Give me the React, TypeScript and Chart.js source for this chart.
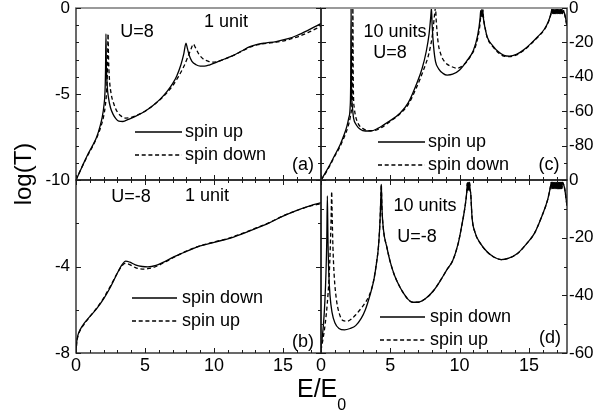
import React, { useEffect, useRef } from "react";
import { Chart, registerables } from "chart.js";

Chart.register(...registerables);

const FONT = '"Liberation Sans", Arial, Helvetica, sans-serif';
const W = 613;
const H = 413;

// ---------- axis values ----------
const X_MAX = 17.75;
const xTickLabels = [0, 5, 10, 15];
const aTickLabels = [-10, -5, 0];
const bTickLabels = [-8, -4];
const cTickLabels = [-80, -60, -40, -20, 0];
const dTickLabels = [-60, -40, -20, 0];

type Pt = [number, number];

// ---------- panel (a): 1 unit, U=8 ----------
const aSpinUp: Pt[] = [
  [0, -10], [0.4, -9.3], [0.8, -8.6], [1.2, -8.0], [1.5, -7.5], [1.75, -6.85], [1.9, -6.35],
  [2.02, -5.7], [2.1, -4.9], [2.14, -3.6], [2.17, -1.5], [2.2, -3.3], [2.25, -4.4], [2.35, -5.2],
  [2.5, -5.8], [2.7, -6.2], [2.9, -6.45], [3.1, -6.58], [3.4, -6.6], [3.8, -6.47], [4.3, -6.3],
  [5.0, -6.0], [5.6, -5.65], [6.1, -5.3], [6.6, -4.85], [7.0, -4.4], [7.3, -3.95], [7.6, -3.3],
  [7.8, -2.7], [7.97, -2.05], [8.07, -2.35], [8.2, -2.75], [8.4, -3.1], [8.7, -3.3], [9.0, -3.38],
  [9.3, -3.38], [9.7, -3.3], [10.2, -3.15], [10.8, -2.95], [11.4, -2.75], [12.0, -2.5], [12.6, -2.25],
  [13.2, -2.1], [13.8, -2.03], [14.5, -1.95], [15.3, -1.8], [16.0, -1.6], [16.8, -1.3], [17.4, -1.05],
  [17.75, -0.9],
];
const aSpinDown: Pt[] = [
  [0, -10], [0.4, -9.3], [0.8, -8.65], [1.2, -8.05], [1.5, -7.55], [1.8, -6.9], [2.0, -6.3],
  [2.12, -5.7], [2.22, -4.8], [2.28, -3.5], [2.32, -1.5], [2.36, -3.0], [2.42, -4.1], [2.55, -5.0],
  [2.75, -5.6], [3.0, -6.05], [3.3, -6.3], [3.6, -6.4], [4.0, -6.36], [4.5, -6.2], [5.0, -6.0],
  [5.6, -5.66], [6.1, -5.32], [6.6, -4.92], [7.0, -4.52], [7.4, -4.02], [7.8, -3.42], [8.1, -2.85],
  [8.35, -2.35], [8.5, -2.1], [8.65, -2.3], [8.9, -2.68], [9.2, -2.95], [9.6, -3.1], [9.9, -3.15],
  [10.3, -3.1], [10.8, -2.96], [11.4, -2.76], [12.0, -2.52], [12.6, -2.28], [13.2, -2.13], [13.8, -2.06],
  [14.5, -1.99], [15.3, -1.86], [16.0, -1.69], [16.8, -1.43], [17.4, -1.2], [17.75, -1.07],
];

// ---------- panel (b): 1 unit, U=-8 ----------
const bSpinDown: Pt[] = [
  [0, -8], [0.05, -7.5], [0.15, -7.15], [0.3, -6.92], [0.6, -6.62], [1.0, -6.32], [1.5, -5.95],
  [2.0, -5.5], [2.5, -4.95], [3.0, -4.3], [3.3, -3.95], [3.6, -3.75], [3.9, -3.8], [4.3, -3.92],
  [4.8, -4.0], [5.2, -4.02], [5.8, -3.95], [6.5, -3.75], [7.2, -3.52], [8.0, -3.3], [9.0, -3.05],
  [10.0, -2.88], [11.0, -2.72], [12.0, -2.5], [13.0, -2.25], [14.0, -1.98], [15.0, -1.67], [16.0, -1.4],
  [17.0, -1.18], [17.75, -1.05],
];
const bSpinUp: Pt[] = [
  [0, -8], [0.05, -7.55], [0.15, -7.2], [0.3, -6.96], [0.6, -6.66], [1.0, -6.32], [1.5, -5.92],
  [2.0, -5.46], [2.5, -4.9], [3.0, -4.3], [3.3, -4.0], [3.55, -3.86], [3.85, -3.9], [4.3, -4.05],
  [4.8, -4.12], [5.2, -4.1], [5.8, -4.0], [6.5, -3.78], [7.2, -3.54], [8.0, -3.29], [9.0, -3.04],
  [10.0, -2.87], [11.0, -2.7], [12.0, -2.48], [13.0, -2.23], [14.0, -1.97], [15.0, -1.66], [16.0, -1.41],
  [17.0, -1.2], [17.75, -1.1],
];

// ---------- panel (c): 10 units, U=8 ----------
const cSpinUp: Pt[] = [
  [0, -100], [0.3, -96], [0.65, -91], [1.0, -85.5], [1.38, -79.5], [1.65, -74], [1.86, -69],
  [2.0, -64], [2.1, -58], [2.14, -45], [2.17, 0], [2.2, -45], [2.27, -58], [2.35, -64], [2.55, -68],
  [2.83, -70.5], [3.2, -71.5], [3.6, -71.5], [4.1, -70], [4.8, -66.5], [5.7, -61.2], [6.3, -55],
  [6.9, -44], [7.3, -35], [7.6, -25], [7.8, -15], [7.92, -5], [7.97, 0], [8.02, -10], [8.12, -22],
  [8.26, -31], [8.5, -35.5], [8.8, -38], [9.1, -39], [9.5, -38.5], [10.0, -36], [10.5, -31],
  [11.0, -24.5], [11.3, -16], [11.48, -6], [11.52, -1.5], [11.56, -5], [11.6, -1], [11.64, -5],
  [11.68, -1.5], [11.72, -6], [11.85, -12], [12.0, -17], [12.4, -22], [12.8, -25.5], [13.2, -27.5],
  [13.6, -28], [14.1, -27], [14.6, -24.5], [15.1, -21], [15.6, -17], [16.1, -12.5], [16.4, -8],
  [16.6, -3],
];
const cSpinDown: Pt[] = [
  [0, -100], [0.3, -96.5], [0.65, -91.5], [1.0, -86], [1.38, -80.5], [1.7, -74.5], [1.95, -69],
  [2.12, -63], [2.22, -57], [2.27, -45], [2.3, 0], [2.33, -45], [2.4, -58], [2.5, -63], [2.7, -67.5],
  [3.0, -70], [3.4, -71.3], [3.8, -71.3], [4.3, -69.8], [4.9, -66.5], [5.7, -61.5], [6.3, -56],
  [6.9, -46], [7.4, -36], [7.8, -26], [8.05, -15], [8.18, -5], [8.26, 0], [8.32, -8], [8.45, -20],
  [8.65, -27], [8.95, -31.5], [9.4, -34], [9.83, -35], [10.3, -33], [10.8, -28], [11.2, -21],
  [11.45, -11], [11.55, -3], [11.6, -1], [11.64, -4], [11.68, -1], [11.72, -5], [11.85, -12],
  [12.0, -17.3], [12.4, -22.5], [12.8, -26], [13.2, -28], [13.6, -28.3], [14.1, -27.3], [14.6, -24.8],
  [15.1, -21.3], [15.6, -17.3], [16.1, -12.8], [16.4, -8.3], [16.6, -3.3],
];
// dense oscillation band near the top, shared by both spins
const cBand: Pt[] = [
  [16.66, -0.8], [16.7, -3.2], [16.74, -0.8], [16.78, -3.2], [16.82, -0.8], [16.86, -3.2],
  [16.9, -0.8], [16.94, -3.2], [16.98, -0.8], [17.02, -3.2], [17.06, -0.8], [17.1, -3.2],
  [17.14, -0.8], [17.18, -3.2], [17.22, -0.8], [17.26, -3.2], [17.3, -0.8], [17.34, -3.2],
  [17.38, -0.8], [17.42, -3.2],
];
const cUpTail: Pt[] = [[17.5, -1.5], [17.6, -4], [17.75, -10]];
const cDownTail: Pt[] = [[17.5, -1.5], [17.6, -4.5], [17.75, -11]];

// ---------- panel (d): 10 units, U=-8 ----------
const dSpinDown: Pt[] = [
  [0, -58], [0.08, -55], [0.18, -50], [0.28, -42], [0.36, -32], [0.42, -20], [0.46, -5.5],
  [0.5, -20], [0.56, -32], [0.65, -40], [0.8, -46], [1.0, -49.5], [1.3, -51.5], [1.7, -52],
  [2.1, -51.5], [2.5, -50.5], [2.9, -48], [3.2, -45], [3.5, -40.5], [3.8, -35], [4.0, -29],
  [4.15, -23], [4.27, -13], [4.33, -4], [4.35, -1.5],
];
const dSpinUp: Pt[] = [
  [0, -59], [0.15, -55], [0.3, -50], [0.45, -43], [0.58, -34], [0.68, -22], [0.74, -11],
  [0.77, -4], [0.8, -11], [0.86, -23], [0.95, -33], [1.1, -41], [1.3, -46], [1.6, -48.8],
  [1.9, -49], [2.2, -48.2], [2.55, -46.5], [2.9, -44.5], [3.2, -42.5], [3.5, -39.8], [3.8, -34.8],
  [4.0, -28.8], [4.15, -22.8], [4.27, -12.8], [4.33, -4], [4.35, -1.5],
];
// beyond E ~ 4.4 both spins coincide
const dShared: Pt[] = [
  [4.4, -10], [4.5, -17], [4.76, -23.5], [5.0, -28.5], [5.3, -33], [5.7, -37.2], [6.0, -39.6],
  [6.3, -41.5], [6.6, -42.4], [7.0, -42.4], [7.5, -41.3], [8.1, -38.5], [8.6, -35], [9.1, -31],
  [9.5, -28], [9.9, -22], [10.15, -16], [10.4, -9], [10.52, -4], [10.56, -1], [10.6, -3.5],
  [10.64, -0.8], [10.68, -3.5], [10.72, -0.8], [10.76, -3.5], [10.8, -4.5], [10.9, -13],
  [11.1, -18], [11.5, -22], [12.0, -25], [12.5, -26.8], [13.0, -27.6], [13.5, -27.2], [14.2, -25.4],
  [14.8, -22.3], [15.4, -18.5], [15.9, -13], [16.35, -6.9], [16.55, -2.5],
];
const dBand: Pt[] = [
  [16.62, -0.8], [16.66, -3.0], [16.7, -0.8], [16.74, -3.0], [16.78, -0.8], [16.82, -3.0],
  [16.86, -0.8], [16.9, -3.0], [16.94, -0.8], [16.98, -3.0], [17.02, -0.8], [17.06, -3.0],
  [17.1, -0.8], [17.14, -3.0], [17.18, -0.8], [17.22, -3.0], [17.26, -0.8], [17.3, -3.0],
  [17.34, -0.8], [17.38, -3.0], [17.42, -0.8],
];
const dTail: Pt[] = [[17.5, -1.5], [17.6, -3.5], [17.75, -9]];

// ---------- panel layout ----------
interface Note { text: string; x: number; y: number; align: CanvasTextAlign }
interface Panel {
  rect: { l: number; t: number; r: number; b: number };
  yMin: number; yMax: number; yLabels: number[]; yPos: "left" | "right";
  yMinor: number; yMajor: number;
  showX: boolean; topTicks: boolean; grayTop: boolean;
  solid: { label: string; data: Pt[] };
  dashed: { label: string; data: Pt[] };
  notes: Note[];
  legend: { x1: number; x2: number; tx: number; y: [number, number] };
}

const PANELS: Panel[] = [
  {
    rect: { l: 76, t: 8, r: 321, b: 180 },
    yMin: -10, yMax: 0, yLabels: aTickLabels, yPos: "left", yMinor: 1, yMajor: 5,
    showX: false, topTicks: false, grayTop: true,
    solid: { label: "spin up", data: aSpinUp },
    dashed: { label: "spin down", data: aSpinDown },
    notes: [
      { text: "U=8", x: 137, y: 32, align: "center" },
      { text: "1 unit", x: 226, y: 22, align: "center" },
      { text: "(a)", x: 303, y: 165, align: "center" },
    ],
    legend: { x1: 135, x2: 182, tx: 185, y: [132, 155] },
  },
  {
    rect: { l: 76, t: 180, r: 321, b: 353 },
    yMin: -8, yMax: 0, yLabels: bTickLabels, yPos: "left", yMinor: 2, yMajor: 4,
    showX: true, topTicks: true, grayTop: false,
    solid: { label: "spin down", data: bSpinDown },
    dashed: { label: "spin up", data: bSpinUp },
    notes: [
      { text: "U=-8", x: 131, y: 197, align: "center" },
      { text: "1 unit", x: 207, y: 196, align: "center" },
      { text: "(b)", x: 303, y: 342, align: "center" },
    ],
    legend: { x1: 132, x2: 177, tx: 182, y: [298, 321] },
  },
  {
    rect: { l: 321, t: 8, r: 567, b: 180 },
    yMin: -100, yMax: 0, yLabels: cTickLabels, yPos: "right", yMinor: 10, yMajor: 20,
    showX: false, topTicks: false, grayTop: true,
    solid: { label: "spin up", data: [...cSpinUp, ...cBand, ...cUpTail] },
    dashed: { label: "spin down", data: [...cSpinDown, ...cBand, ...cDownTail] },
    notes: [
      { text: "10 units", x: 395, y: 32, align: "center" },
      { text: "U=8", x: 390, y: 53, align: "center" },
      { text: "(c)", x: 549, y: 165, align: "center" },
    ],
    legend: { x1: 378, x2: 425, tx: 428, y: [142, 165] },
  },
  {
    rect: { l: 321, t: 180, r: 567, b: 353 },
    yMin: -60, yMax: 0, yLabels: dTickLabels, yPos: "right", yMinor: 10, yMajor: 20,
    showX: true, topTicks: true, grayTop: false,
    solid: { label: "spin down", data: [...dSpinDown, ...dShared, ...dBand, ...dTail] },
    dashed: { label: "spin up", data: [...dSpinUp, ...dShared, ...dBand, ...dTail] },
    notes: [
      { text: "10 units", x: 425, y: 206, align: "center" },
      { text: "U=-8", x: 417, y: 237, align: "center" },
      { text: "(d)", x: 550, y: 338, align: "center" },
    ],
    legend: { x1: 380, x2: 425, tx: 430, y: [317, 340] },
  },
];

const DASH = [4, 2.7];

const decoPlugin = {
  id: "panelDeco",
  afterDatasetsDraw(chart: any, _args: any, opts: any) {
    const p: Panel = opts.panel;
    if (!p) return;
    const { ctx, chartArea } = chart;
    const { left, right, top, bottom } = chartArea;
    const xs = chart.scales.x;
    const ys = chart.scales.y;
    ctx.save();
    // frame
    ctx.strokeStyle = "#1a1a1a";
    ctx.lineWidth = 1.3;
    ctx.strokeRect(left, top, right - left, bottom - top);
    if (p.grayTop) {
      ctx.strokeStyle = "#9a9a9a";
      ctx.lineWidth = 2;
      ctx.beginPath();
      ctx.moveTo(left, top);
      ctx.lineTo(right, top);
      ctx.stroke();
    }
    // inward ticks
    ctx.strokeStyle = "#1a1a1a";
    ctx.lineWidth = 1;
    ctx.beginPath();
    for (let k = 0; k <= Math.floor(xs.max); k++) {
      const px = Math.round(xs.getPixelForValue(k)) + 0.5;
      const len = k % 5 === 0 ? 5 : 3;
      ctx.moveTo(px, bottom);
      ctx.lineTo(px, bottom - len);
      if (p.topTicks) {
        ctx.moveTo(px, top);
        ctx.lineTo(px, top + len);
      }
    }
    const n = Math.round((p.yMax - p.yMin) / p.yMinor);
    for (let i = 0; i <= n; i++) {
      const v = p.yMin + i * p.yMinor;
      const py = Math.round(ys.getPixelForValue(v)) + 0.5;
      const len = Math.abs(v % p.yMajor) < 1e-6 ? 5 : 3;
      ctx.moveTo(left, py);
      ctx.lineTo(left + len, py);
      ctx.moveTo(right, py);
      ctx.lineTo(right - len, py);
    }
    ctx.stroke();

    // text notes
    ctx.fillStyle = "#000";
    ctx.font = `18px ${FONT}`;
    ctx.textBaseline = "middle";
    for (const nt of p.notes) {
      ctx.textAlign = nt.align;
      ctx.fillText(nt.text, nt.x, nt.y);
    }
    // legend
    const ds = chart.data.datasets;
    ctx.textAlign = "left";
    ds.forEach((d: any, i: number) => {
      const y = p.legend.y[i];
      ctx.save();
      ctx.strokeStyle = d.borderColor;
      ctx.lineWidth = d.borderWidth;
      ctx.setLineDash(d.borderDash || []);
      ctx.beginPath();
      ctx.moveTo(p.legend.x1, y);
      ctx.lineTo(p.legend.x2, y);
      ctx.stroke();
      ctx.restore();
      ctx.fillText(d.label, p.legend.tx, y);
    });
    ctx.restore();
  },
};

function toXY(arr: Pt[]) {
  return arr.map(([x, y]) => ({ x, y }));
}

function buildConfig(p: Panel): any {
  const { rect } = p;
  return {
    type: "line",
    data: {
      datasets: [
        {
          label: p.solid.label,
          data: toXY(p.solid.data),
          borderColor: "#000",
          borderWidth: 1.3,
          pointRadius: 0,
          fill: false,
          cubicInterpolationMode: "monotone",
        },
        {
          label: p.dashed.label,
          data: toXY(p.dashed.data),
          borderColor: "#000",
          borderWidth: 1.3,
          borderDash: DASH,
          pointRadius: 0,
          fill: false,
          cubicInterpolationMode: "monotone",
        },
      ],
    },
    options: {
      responsive: false,
      animation: false,
      devicePixelRatio: 1,
      events: [],
      layout: {
        padding: {
          left: p.yPos === "left" ? 0 : rect.l,
          right: p.yPos === "right" ? 0 : W - rect.r,
          top: rect.t,
          bottom: p.showX ? 0 : H - rect.b,
        },
      },
      plugins: {
        legend: { display: false },
        tooltip: { enabled: false },
        panelDeco: { panel: p },
      },
      scales: {
        x: {
          type: "linear",
          min: 0,
          max: X_MAX,
          display: p.showX,
          position: "bottom",
          grid: { display: false, drawTicks: false },
          border: { display: false },
          ticks: { font: { family: FONT, size: 18, lineHeight: 1 }, color: "#000", padding: 4, autoSkip: false, maxRotation: 0 },
          afterBuildTicks: (s: any) => { s.ticks = xTickLabels.map((v) => ({ value: v })); },
          afterFit: (s: any) => {
            s.height = p.showX ? H - rect.b : 0;
            s.paddingLeft = 0; s.paddingRight = 0; s.paddingTop = 0; s.paddingBottom = 0;
          },
        },
        y: {
          type: "linear",
          min: p.yMin,
          max: p.yMax,
          position: p.yPos,
          grid: { display: false, drawTicks: false },
          border: { display: false },
          ticks: { font: { family: FONT, size: 17, lineHeight: 1 }, color: "#000", padding: p.yPos === "left" ? 6 : 2, autoSkip: false },
          afterBuildTicks: (s: any) => { s.ticks = p.yLabels.map((v) => ({ value: v })); },
          afterFit: (s: any) => {
            s.width = p.yPos === "left" ? rect.l : W - rect.r;
            s.paddingLeft = 0; s.paddingRight = 0; s.paddingTop = 0; s.paddingBottom = 0;
          },
        },
      },
    },
    plugins: [decoPlugin],
  };
}

export default function App() {
  const canvases = useRef<(HTMLCanvasElement | null)[]>([]);
  useEffect(() => {
    const charts = PANELS.map((p, i) => new Chart(canvases.current[i] as HTMLCanvasElement, buildConfig(p)));
    return () => charts.forEach((c) => c.destroy());
  }, []);
  return (
    <div style={{ position: "fixed", left: 0, top: 0, width: W, height: H, background: "#fff", overflow: "hidden", fontFamily: FONT }}>
      {PANELS.map((_, i) => (
        <canvas
          key={i}
          ref={(el) => { canvases.current[i] = el; }}
          width={W}
          height={H}
          style={{ position: "absolute", left: 0, top: 0, width: W, height: H }}
        />
      ))}
      <div
        style={{
          position: "absolute", left: -27, top: 159, width: 100, height: 30, lineHeight: "30px",
          fontSize: 24, textAlign: "center", transform: "rotate(-90deg)", color: "#000", whiteSpace: "nowrap",
        }}
      >
        log(T)
      </div>
      <div
        style={{ position: "absolute", left: 297, top: 376, fontSize: 25, lineHeight: "25px", color: "#000", whiteSpace: "nowrap" }}
      >
        E/E<span style={{ fontSize: 16, position: "relative", top: 13, verticalAlign: "baseline" }}>0</span>
      </div>
    </div>
  );
}
